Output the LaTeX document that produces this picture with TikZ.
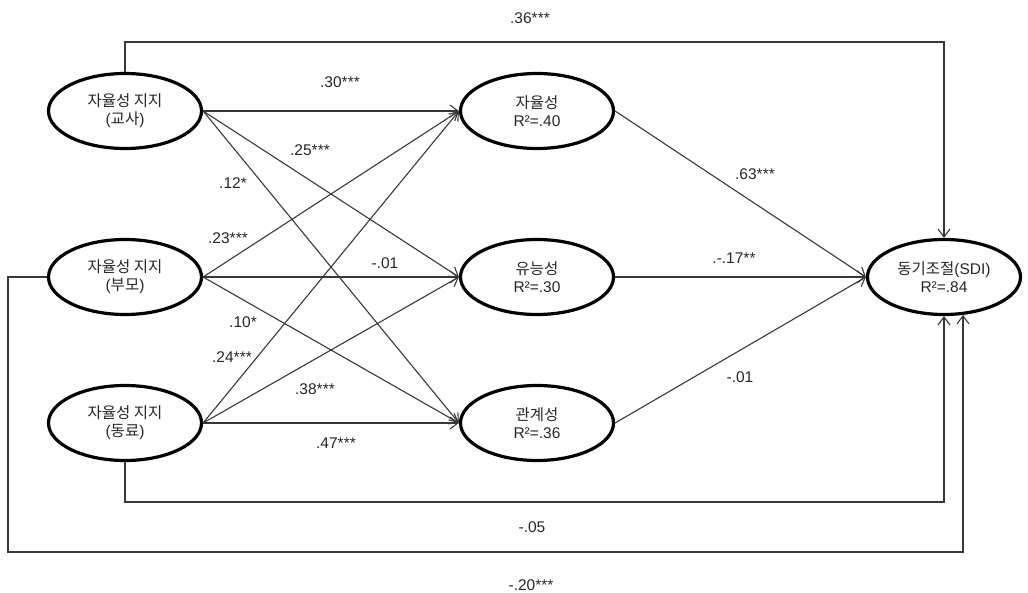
\documentclass[tikz,border=0pt]{standalone}
\usepackage{fontspec}
\setmainfont{Liberation Sans}
\newfontfamily\kr{Noto Sans CJK KR}
\usetikzlibrary{arrows.meta,shapes.geometric}

\begin{document}
\begin{tikzpicture}[x=1pt,y=-1pt,
  latent/.style={ellipse, draw=black, line width=3.2pt, minimum width=153pt,
    minimum height=75pt, inner sep=0pt, align=center,
    font=\fontsize{15.5}{18}\selectfont, text=black!85},
  link/.style={draw=black!78, line width=1.1pt,
    -{Straight Barb[length=8pt,width=12pt,line width=1.1pt]}},
  coef/.style={font=\fontsize{15.5}{18}\selectfont, text=black!85, inner sep=0pt}
]
\useasboundingbox (0,0) rectangle (1028,593);

% exogenous: autonomy support
\node[latent] (tch)  at (125,111) {{\kr 자율성 지지}\\({\kr 교사})};
\node[latent] (par)  at (125,277) {{\kr 자율성 지지}\\({\kr 부모})};
\node[latent] (peer) at (125,423) {{\kr 자율성 지지}\\({\kr 동료})};

% mediators: basic needs
\node[latent] (aut) at (537,111) {{\kr 자율성}\\R²=.40};
\node[latent] (com) at (537,277) {{\kr 유능성}\\R²=.30};
\node[latent] (rel) at (537,423) {{\kr 관계성}\\R²=.36};

% outcome
\node[latent] (sdi) at (944,277) {{\kr 동기조절}(SDI)\\R²=.84};

% routing levels for the direct paths
\coordinate (topy) at (0,42);
\coordinate (lowy) at (0,502);
\coordinate (boty) at (0,552);
\coordinate (leftx) at (8,0);
\coordinate (rightx) at (963,0);

% support -> needs
\foreach \s in {tch,par,peer}
  \foreach \t in {aut,com,rel}
    \draw[link] (\s.east) -- (\t.west);

% needs -> SDI
\foreach \m in {aut,com,rel}
  \draw[link] (\m.east) -- (sdi.west);

% direct paths to SDI
\draw[link] (tch.north) -- (tch.north |- topy) -- (sdi.north |- topy) -- (sdi.north);
\draw[link] (peer.south) -- (peer.south |- lowy) -- (sdi.south |- lowy) -- (sdi.south);
\draw[link] (par.west) -- (leftx |- par.west) -- (leftx |- boty) -- (rightx |- boty)
  -- (rightx |- sdi.-64);

% path coefficients
\node[coef] (c1)  at (530,18)  {.36***};
\node[coef] (c2)  at (340,82)  {.30***};
\node[coef] (c3)  at (310,150) {.25***};
\node[coef] (c4)  at (233,183) {.12*};
\node[coef] (c5)  at (228,238) {.23***};
\node[coef] (c6)  at (385,263) {-.01};
\node[coef] (c7)  at (243,322) {.10*};
\node[coef] (c8)  at (232,357) {.24***};
\node[coef] (c9)  at (315,389) {.38***};
\node[coef] (c10) at (336,443) {.47***};
\node[coef] (c11) at (755,174) {.63***};
\node[coef] (c12) at (734,258) {.-.17**};
\node[coef] (c13) at (740,377) {-.01};
\node[coef] (c14) at (532,527) {-.05};
\node[coef] (c15) at (531,585) {-.20***};
\end{tikzpicture}
\end{document}
